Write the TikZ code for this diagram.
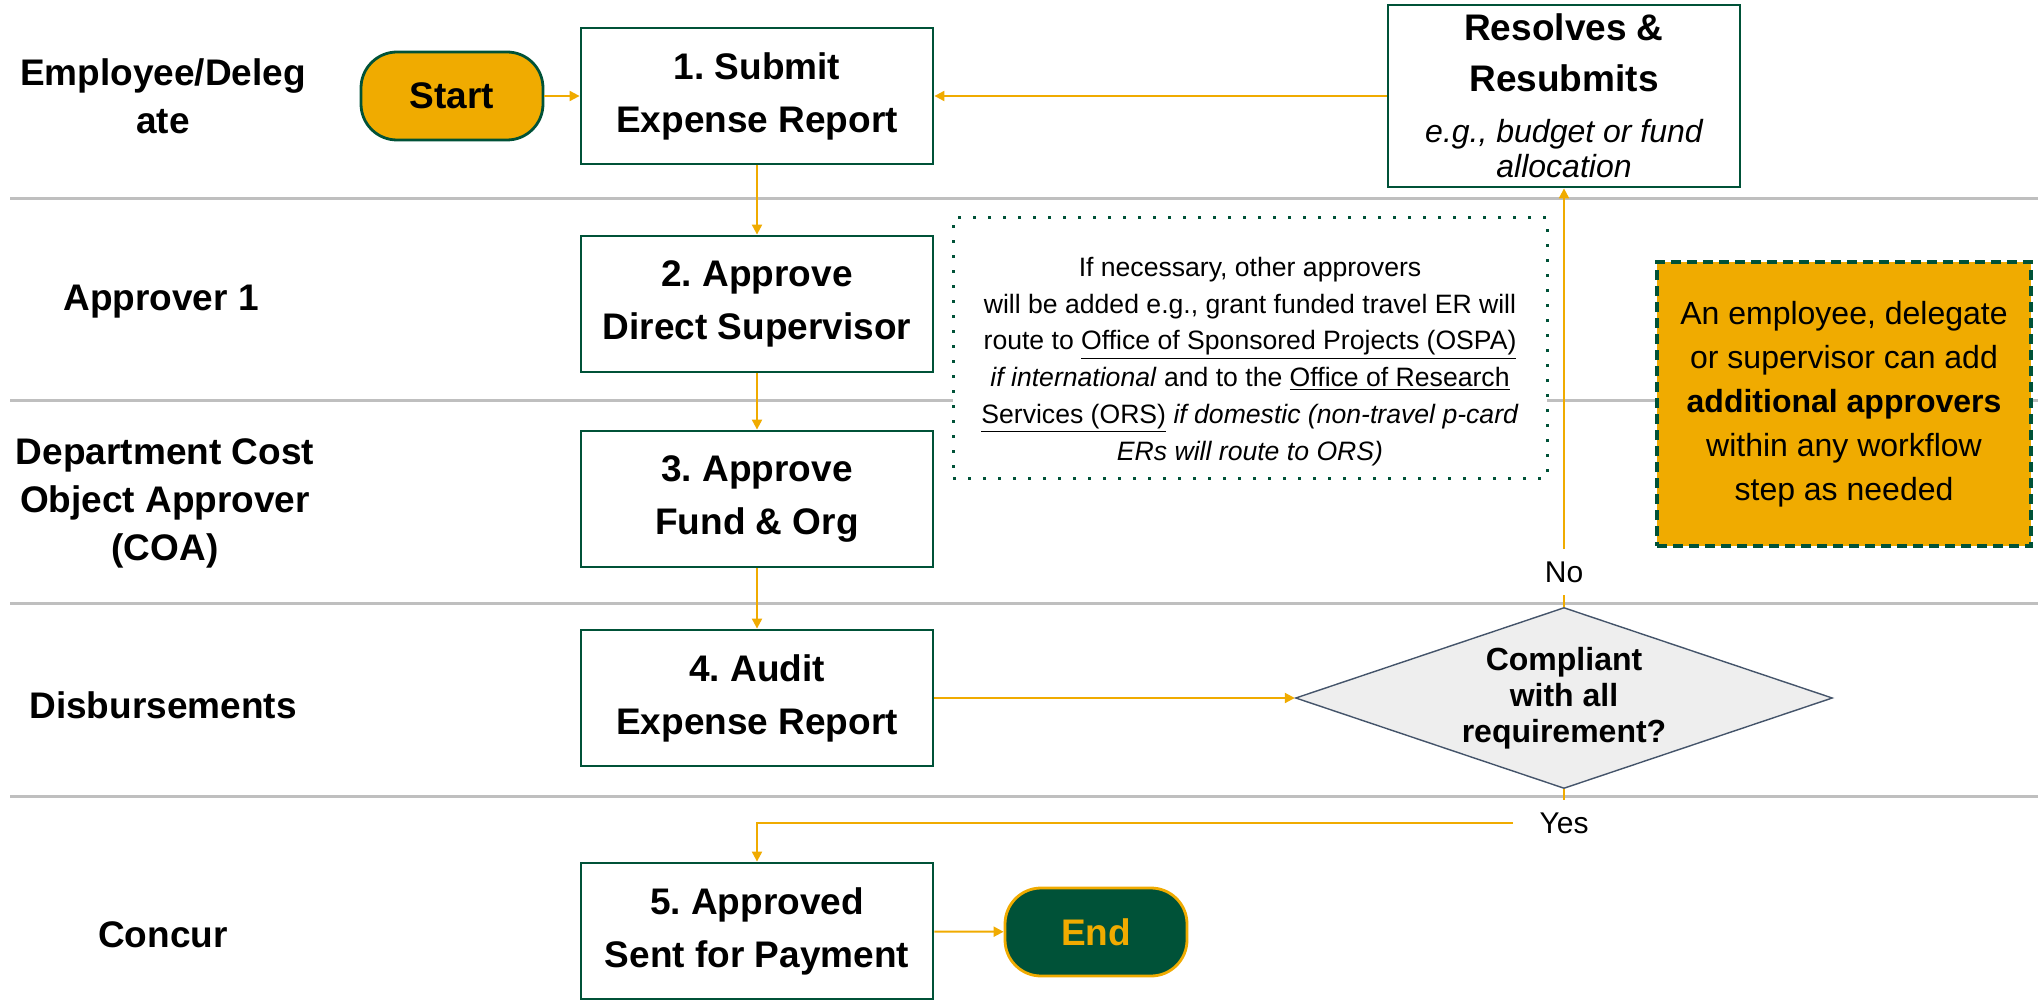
\documentclass[tikz,border=0pt]{standalone}
\usepackage{fontspec}
\setmainfont{Liberation Sans}
\usepackage{tikz}
\usetikzlibrary{positioning,shapes.geometric,arrows.meta}
\definecolor{bgreen}{RGB}{0,82,56}
\definecolor{bgold}{RGB}{240,171,0}
\definecolor{lanegray}{RGB}{191,191,191}
\definecolor{diagray}{RGB}{238,238,238}
\definecolor{slate}{RGB}{68,84,106}
\frenchspacing

\begin{document}
\begin{tikzpicture}[x=0.5pt,y=-0.5pt]
          \useasboundingbox (0,0) rectangle (2038,1000);

          \tikzstyle{lane}=[draw=lanegray,line width=1.5pt]
          \tikzstyle{lanelbl}=[align=center,font=\bfseries\fontsize{18.5}{24}\selectfont]
          \tikzstyle{box}=[draw=bgreen,line width=1.4pt,fill=white,minimum width=176pt,
            minimum height=68pt,align=center,font=\bfseries\fontsize{18.5}{26.5}\selectfont]
          \tikzstyle{term}=[rounded corners=18pt,line width=1.4pt,minimum width=91pt,
            minimum height=44pt,font=\bfseries\fontsize{18.5}{22}\selectfont]
          \tikzstyle{flow}=[draw=bgold,line width=1pt,-{Triangle[length=5pt,width=5pt]}]
          \tikzstyle{lbl}=[inner xsep=13pt,inner ysep=6pt,font=\fontsize{15}{18}\selectfont]
          \tikzstyle{note}=[draw=bgreen,line width=1.5pt,dash pattern=on 1.5pt off 6pt,fill=white,
            minimum width=297pt,minimum height=130pt,font=\fontsize{13.3}{18.4}\selectfont]
          \tikzstyle{tipbox}=[draw=bgreen,fill=bgold,line width=1.6pt,dash pattern=on 5pt off 3pt,
            minimum width=187pt,minimum height=142pt,align=center,font=\fontsize{16}{22}\selectfont]
          \tikzstyle{decision}=[diamond,aspect=2.97,draw=slate,fill=diagray,line width=0.7pt,
            minimum width=268.5pt,minimum height=90.5pt,inner sep=0pt,align=center,
            font=\bfseries\fontsize{16}{19}\selectfont]

          % swimlanes
          \foreach \y in {199,400,603,796}{
            \draw[lane] (10,\y) -- (2038,\y);
          }
          \node[lanelbl] (l1) at (163,96) {Employee/Deleg\\ate};
          \node[lanelbl] (l2) at (161,302) {Approver 1};
          \node[lanelbl] (l3) at (165,503) {Department Cost\\Object Approver\\(COA)};
          \node[lanelbl] (l4) at (163,705) {Disbursements};
          \node[lanelbl] (l5) at (163,935) {Concur};

          % steps
          \node[term,fill=bgold,draw=bgreen] (start) at (452,96) {Start};
          \node[box] (b1) at (757,96) {1. Submit\\Expense Report};
          \node[box] (b2) at (757,304) {2. Approve\\Direct Supervisor};
          \node[box] (b3) at (757,499) {3. Approve\\Fund \& Org};
          \node[box] (b4) at (757,698) {4. Audit\\Expense Report};
          \node[box] (b5) at (757,931) {5. Approved\\Sent for Payment};
          \node[term,fill=bgreen,draw=bgold,text=bgold] (end) at (1096,932) {End};

          \node[box,minimum height=91pt] (res) at (1564,96) {Resolves \&\\[-1pt]Resubmits\\[-1pt]
            {\mdseries\itshape\fontsize{16}{26.5}\selectfont e.g., budget or fund}\\[-9pt]
            {\mdseries\itshape\fontsize{16}{26.5}\selectfont allocation}};

          \node[decision] (dia) at (1564,698) {Compliant\\[-1pt]with all\\[-1pt]requirement?};

          % notes
          \node[note] (note) at (1250,348) {\raisebox{-6.5pt}[\height][\depth]{%
            \begin{tabular}{@{}c@{}}
            If necessary, other approvers\\
            will be added e.g., grant funded travel ER will\\
            route to \underline{Office of Sponsored Projects (OSPA)}\\
            \textit{if international} and to the \underline{Office of Research}\\
            \underline{Services (ORS)} \textit{if domestic (non-travel p-card}\\
            \textit{ERs will route to ORS)}
            \end{tabular}}};
          \node[tipbox] (tip) at (1844,404) {An employee, delegate\\or supervisor can add\\
            \textbf{additional approvers}\\within any workflow\\step as needed};

          % flow
          \draw[flow] (start) -- (b1);
          \draw[flow] (res) -- (b1);
          \foreach \from/\to in {1/2,2/3,3/4}{
            \draw[flow] (b\from) -- (b\to);
          }
          \draw[flow] (b4) -- (dia);
          \draw[flow] (b5) -- (end);

          \node[lbl] (no) at (1564,572) {No};
          \draw[flow,-] (dia.north) -- (no.south);
          \draw[flow] (no.north) -- (res.south);

          \node[lbl] (yes) at (1564,823) {Yes};
          \draw[flow,-] (dia.south) -- (yes.north);
          \draw[flow] (yes.west) -| (b5.north);
        \end{tikzpicture}
\end{document}
